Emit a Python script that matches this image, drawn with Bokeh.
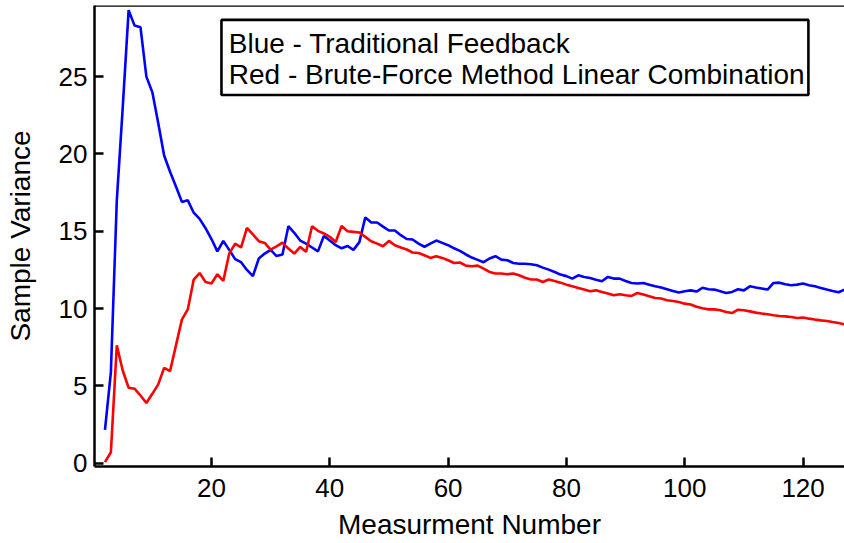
from bokeh.plotting import figure
from bokeh.models import Range1d, FixedTicker, BoxAnnotation, Label, Span
from bokeh.embed import file_html
from bokeh.resources import INLINE

measurement = list(range(2, 128))

blue_traditional = [
    2.16, 5.9, 17.0, 23.0, 29.3, 28.3, 28.2, 25.0, 24.0, 22.0,
    19.9, 18.85, 17.9, 16.9, 17.0, 16.2, 15.8, 15.2, 14.5, 13.7,
    14.38, 13.8, 13.2, 13.0, 12.5, 12.1, 13.24, 13.56, 13.8, 13.4,
    13.5, 15.33, 14.9, 14.4, 14.2, 13.95, 13.7, 14.7, 14.4, 14.1,
    13.9, 14.05, 13.8, 14.3, 15.9, 15.57, 15.57, 15.3, 15.05, 15.05,
    14.75, 14.5, 14.47, 14.2, 14.0, 14.2, 14.4, 14.25, 14.1, 13.9,
    13.73, 13.5, 13.3, 13.15, 13.0, 13.24, 13.39, 13.17, 13.13, 12.95,
    12.9, 12.9, 12.87, 12.8, 12.65, 12.52, 12.37, 12.2, 12.1, 11.94,
    12.15, 12.05, 11.98, 11.87, 11.77, 12.05, 11.94, 11.94, 11.79, 11.66,
    11.62, 11.66, 11.55, 11.44, 11.36, 11.25, 11.14, 11.04, 11.12, 11.18,
    11.1, 11.35, 11.25, 11.23, 11.12, 11.01, 11.08, 11.25, 11.18, 11.44,
    11.36, 11.3, 11.23, 11.66, 11.68, 11.57, 11.51, 11.55, 11.62, 11.51,
    11.44, 11.34, 11.23, 11.14, 11.06, 11.23,
]

red_brute_force = [
    0.07, 0.71, 7.62, 6.0, 4.88, 4.82, 4.38, 3.9, 4.49, 5.1,
    6.17, 5.96, 7.62, 9.29, 9.95, 11.88, 12.3, 11.72, 11.62, 12.22,
    11.79, 13.56, 14.2, 13.95, 15.22, 14.8, 14.36, 14.25, 13.82, 14.03,
    14.27, 13.88, 13.56, 13.99, 13.67, 15.33, 15.03, 14.86, 14.64, 14.31,
    15.35, 15.0, 14.96, 14.92, 14.64, 14.36, 14.2, 14.03, 14.38, 14.1,
    13.95, 13.82, 13.63, 13.6, 13.45, 13.28, 13.39, 13.28, 13.13, 12.95,
    12.98, 12.78, 12.74, 12.78, 12.59, 12.37, 12.27, 12.27, 12.22, 12.27,
    12.16, 12.0, 11.88, 11.88, 11.72, 11.88, 11.79, 11.68, 11.55, 11.44,
    11.34, 11.23, 11.12, 11.18, 11.08, 10.97, 10.86, 10.93, 10.86, 10.82,
    11.01, 10.91, 10.8, 10.69, 10.65, 10.54, 10.49, 10.43, 10.32, 10.27,
    10.12, 10.02, 9.95, 9.95, 9.89, 9.78, 9.71, 9.93, 9.89, 9.82,
    9.74, 9.68, 9.63, 9.57, 9.52, 9.5, 9.46, 9.39, 9.42, 9.35,
    9.29, 9.24, 9.2, 9.13, 9.07, 8.98,
]

x_ticks = [20, 40, 60, 80, 100, 120]
y_ticks = [0, 5, 10, 15, 20, 25]
legend_lines = ["Blue - Traditional Feedback",
                "Red - Brute-Force Method Linear Combination"]

FONT = "Liberation Sans"
X0, X1 = 0.23, 127.0
Y0, Y1 = -0.21, 29.6

p = figure(width=844, height=543, output_backend="svg", toolbar_location=None,
           x_range=Range1d(X0, X1), y_range=Range1d(Y0, Y1),
           min_border_left=94, min_border_right=0, min_border_top=5,
           min_border_bottom=77)
p.outline_line_color = None
p.grid.visible = False
p.background_fill_color = "white"
p.border_fill_color = "white"

p.line(measurement, blue_traditional, line_color="#0000FF", line_width=2.6)
p.line(measurement, red_brute_force, line_color="#FF0000", line_width=2.6)

for ax in (p.xaxis[0], p.yaxis[0]):
    ax.axis_line_width = 2.5
    ax.axis_line_color = "black"
    ax.major_tick_line_width = 2.5
    ax.major_tick_line_color = "black"
    ax.major_tick_in = 9
    ax.major_tick_out = 0
    ax.minor_tick_line_color = None
    ax.major_label_text_font = FONT
    ax.major_label_text_font_size = "26px"
    ax.major_label_text_color = "black"
    ax.axis_label_text_font = FONT
    ax.axis_label_text_font_size = "28px"
    ax.axis_label_text_font_style = "normal"
    ax.axis_label_text_color = "black"

p.xaxis.ticker = FixedTicker(ticks=x_ticks)
p.yaxis.ticker = FixedTicker(ticks=y_ticks)
p.xaxis.axis_label = "Measurment Number"
p.yaxis.axis_label = "Sample Variance"
p.xaxis.major_label_standoff = 12
p.xaxis.axis_label_standoff = 9
p.yaxis.major_label_standoff = 7
p.yaxis.axis_label_standoff = 20

p.add_layout(Span(location=Y1, dimension="width", line_color="black", line_width=2.5))

box = BoxAnnotation(left=21.69, right=120.9, bottom=23.81, top=28.67,
                    fill_color="white", fill_alpha=1.0,
                    line_color="black", line_width=2.6, line_alpha=1.0)
p.add_layout(box)

for txt, yy in zip(legend_lines, [27.13, 25.11]):
    p.add_layout(Label(x=22.93, y=yy, text=txt, text_font=FONT,
                       text_font_size="28px", text_color="black",
                       text_baseline="alphabetic", text_align="left"))

open("out.html", "w").write(file_html(p, INLINE))
